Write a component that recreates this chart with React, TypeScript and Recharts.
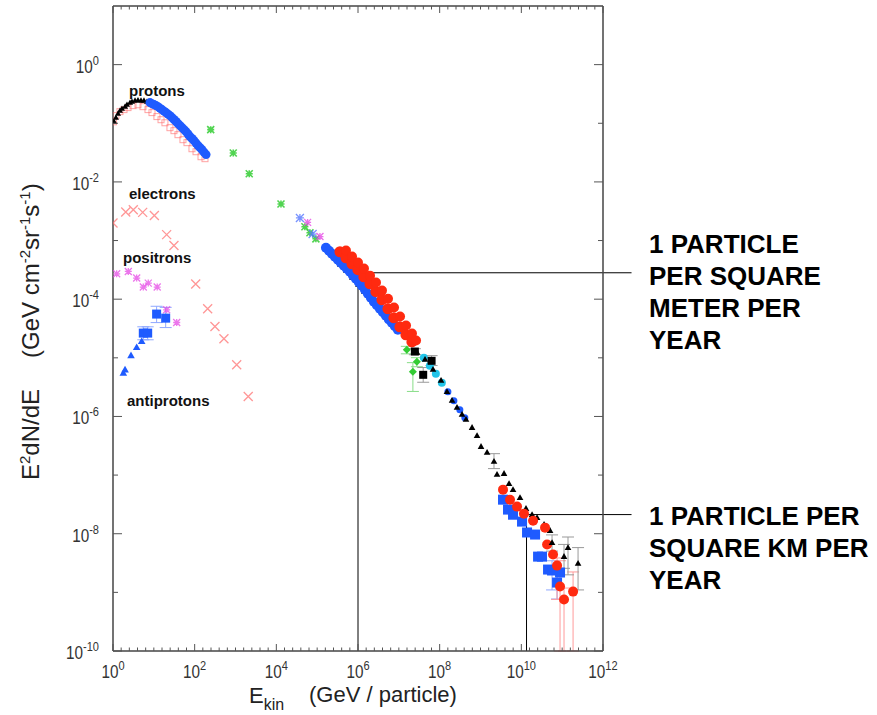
import React from 'react';
import { ScatterChart, Scatter, XAxis, YAxis, ErrorBar, ReferenceLine } from 'recharts';

type Pt = { x: number; y: number; e?: [number, number] };

// ---------- axes ----------
const X_TICKS = [1, 1e2, 1e4, 1e6, 1e8, 1e10, 1e12];
const X_TICK_EXPONENTS = ['0', '2', '4', '6', '8', '10', '12'];
const Y_TICKS = [1e-10, 1e-8, 1e-6, 1e-4, 1e-2, 1];
const Y_TICK_EXPONENTS = ['-10', '-8', '-6', '-4', '-2', '0'];
const X_MINOR_TICKS = Array.from({ length: 61 }, (_, i) => Math.pow(10, i * 0.2));
const Y_MINOR_TICKS = [1e-10, 1e-9, 1e-8, 1e-7, 1e-6, 1e-5, 1e-4, 1e-3, 1e-2, 1e-1, 1];
const X_DOMAIN: [number, number] = [1, 1e12];
const Y_DOMAIN: [number, number] = [1e-10, 10];

// ---------- data ----------
const PROTON_TRIANGLES: Pt[] = [
  { x: 1.06, y: 0.107 }, { x: 1.18, y: 0.125 }, { x: 1.33, y: 0.146 }, { x: 1.48, y: 0.164 },
  { x: 1.66, y: 0.178 }, { x: 1.97, y: 0.192 }, { x: 2.2, y: 0.208 }, { x: 2.61, y: 0.225 },
  { x: 2.92, y: 0.234 }, { x: 3.46, y: 0.244 }, { x: 4.09, y: 0.248 }, { x: 4.85, y: 0.244 },
  { x: 5.74, y: 0.244 }, { x: 6.8, y: 0.234 },
];
const PROTON_CIRCLES: Pt[] = [
  { x: 8.05, y: 0.225 }, { x: 9.0, y: 0.216 }, { x: 10.1, y: 0.208 }, { x: 11.3, y: 0.2 }, { x: 12.6, y: 0.192 },
  { x: 14.1, y: 0.181 }, { x: 15.8, y: 0.171 }, { x: 17.8, y: 0.161 }, { x: 19.9, y: 0.152 }, { x: 22.3, y: 0.143 },
  { x: 24.9, y: 0.135 }, { x: 27.9, y: 0.125 }, { x: 31.2, y: 0.116 }, { x: 35.0, y: 0.107 }, { x: 39.1, y: 0.0988 },
  { x: 43.8, y: 0.0914 }, { x: 49.0, y: 0.0844 }, { x: 54.9, y: 0.0781 }, { x: 61.4, y: 0.0722 }, { x: 68.7, y: 0.0655 },
  { x: 76.9, y: 0.0593 }, { x: 86.1, y: 0.0549 }, { x: 96.4, y: 0.0507 }, { x: 108, y: 0.0459 }, { x: 121, y: 0.0416 },
  { x: 135, y: 0.0385 }, { x: 151, y: 0.0356 }, { x: 169, y: 0.0322 }, { x: 190, y: 0.0292 },
];
const PROTON_OPEN_SQUARES: Pt[] = [
  { x: 1.03, y: 0.106 }, { x: 1.18, y: 0.135 }, { x: 1.48, y: 0.158 }, { x: 1.86, y: 0.171 },
  { x: 2.33, y: 0.185 }, { x: 3.09, y: 0.2 }, { x: 4.09, y: 0.207 }, { x: 5.42, y: 0.192 },
  { x: 7.19, y: 0.171 }, { x: 9.01, y: 0.152 }, { x: 11.9, y: 0.13 }, { x: 15.0, y: 0.115 },
  { x: 18.7, y: 0.102 }, { x: 24.8, y: 0.0841 }, { x: 31.1, y: 0.0748 }, { x: 39.0, y: 0.0639 },
  { x: 51.7, y: 0.0525 }, { x: 64.8, y: 0.0467 }, { x: 85.9, y: 0.0368 }, { x: 108, y: 0.0327 },
  { x: 143, y: 0.0269 }, { x: 179, y: 0.0249 },
];
const GREEN_ASTERISKS: Pt[] = [
  { x: 247, y: 0.0778 }, { x: 881, y: 0.0311 }, { x: 2170, y: 0.0138 }, { x: 1.3e4, y: 0.0042 },
  { x: 5.01e4, y: 0.00172 }, { x: 6.65e4, y: 0.00136 }, { x: 9.31e4, y: 0.00107 },
];
const BLUE_CROSSES: Pt[] = [{ x: 3.78e4, y: 0.00243 }, { x: 7.74e4, y: 0.00129 }];
const MAGENTA_ASTERISKS: Pt[] = [{ x: 5.83e4, y: 0.00204 }, { x: 1.17e5, y: 0.00117 }];
const KNEE_BLACK_TRIANGLES: Pt[] = [
  { x: 1.84e5, y: 6.44e-4 }, { x: 2.59e5, y: 5.09e-4 }, { x: 3.61e5, y: 3.86e-4 }, { x: 5.06e5, y: 3.05e-4 },
  { x: 7.1e5, y: 2.32e-4 }, { x: 9.95e5, y: 1.76e-4 }, { x: 1.39e6, y: 1.34e-4 }, { x: 1.96e6, y: 1.02e-4 },
];
const KNEE_BLUE: Pt[] = [
  { x: 1.64e5, y: 7.53e-4 }, { x: 1.95e5, y: 6.7e-4 }, { x: 2.3e5, y: 5.95e-4 }, { x: 2.72e5, y: 5.3e-4 },
  { x: 3.22e5, y: 4.7e-4 }, { x: 3.8e5, y: 4.2e-4 }, { x: 4.52e5, y: 3.72e-4 }, { x: 5.35e5, y: 3.3e-4 },
  { x: 6.34e5, y: 2.94e-4 }, { x: 7.5e5, y: 2.55e-4 }, { x: 8.89e5, y: 2.23e-4 }, { x: 1.05e6, y: 1.95e-4 },
  { x: 1.25e6, y: 1.69e-4 }, { x: 1.48e6, y: 1.45e-4 }, { x: 1.75e6, y: 1.24e-4 }, { x: 2.07e6, y: 1.06e-4 },
  { x: 2.45e6, y: 9.03e-5 }, { x: 2.9e6, y: 7.9e-5 }, { x: 3.44e6, y: 6.86e-5 }, { x: 4.07e6, y: 6.0e-5 },
  { x: 4.82e6, y: 5.21e-5 }, { x: 5.7e6, y: 4.5e-5 }, { x: 6.76e6, y: 3.96e-5 }, { x: 8.0e6, y: 3.45e-5 },
  { x: 9.48e6, y: 3.01e-5 },
];
const KNEE_RED_A: Pt[] = [
  { x: 3.61e5, y: 6.44e-4 }, { x: 5.06e5, y: 5.09e-4 }, { x: 7.1e5, y: 4.02e-4 }, { x: 9.95e5, y: 3.18e-4 },
  { x: 1.39e6, y: 2.41e-4 }, { x: 1.96e6, y: 1.83e-4 }, { x: 2.74e6, y: 1.34e-4 }, { x: 3.85e6, y: 9.77e-5 },
  { x: 5.4e6, y: 6.86e-5 }, { x: 7.57e6, y: 4.82e-5 }, { x: 1.06e7, y: 3.38e-5 }, { x: 1.49e7, y: 2.47e-5 },
  { x: 2.09e7, y: 1.87e-5 },
];
const KNEE_RED_B: Pt[] = [
  { x: 5.08e5, y: 6.75e-4 }, { x: 7.13e5, y: 5.32e-4 }, { x: 1.0e6, y: 4.21e-4 }, { x: 1.4e6, y: 3.32e-4 },
  { x: 1.97e6, y: 2.52e-4 }, { x: 2.76e6, y: 1.92e-4 }, { x: 3.87e6, y: 1.4e-4 }, { x: 5.43e6, y: 1.02e-4 },
  { x: 7.62e6, y: 7.19e-5 }, { x: 1.07e7, y: 5.05e-5 }, { x: 1.5e7, y: 3.55e-5 }, { x: 2.1e7, y: 2.59e-5 },
  { x: 2.64e7, y: 1.97e-5 },
];
const GREEN_DIAMONDS: Pt[] = [
  { x: 1.57e7, y: 1.37e-5, e: [2e-6, 2e-6] }, { x: 2.21e7, y: 5.77e-6, e: [3.1e-6, 2.5e-6] },
  { x: 2.77e7, y: 8.55e-6, e: [1.5e-6, 1.5e-6] },
];
const BLACK_SQUARES: Pt[] = [
  { x: 2.47e7, y: 1.28e-5, e: [1.5e-6, 1.5e-6] }, { x: 3.95e7, y: 5.13e-6, e: [1.3e-6, 1.7e-6] },
  { x: 6.34e7, y: 8.89e-6, e: [1.5e-6, 2e-6] },
];
const CYAN_CIRCLES: Pt[] = [
  { x: 4.1e7, y: 1.0e-5 }, { x: 5.75e7, y: 7.31e-6 }, { x: 8.07e7, y: 5.33e-6 }, { x: 1.13e8, y: 3.75e-6 },
];
const MID_BLUE_CIRCLES: Pt[] = [
  { x: 1.59e8, y: 2.63e-6 }, { x: 2.23e8, y: 1.85e-6 }, { x: 3.12e8, y: 1.3e-6 }, { x: 4.13e8, y: 9.48e-7 },
];
const TAIL_BLACK_TRIANGLES: Pt[] = [
  { x: 2.79e7, y: 1.23e-5 }, { x: 4.38e7, y: 9.33e-6 }, { x: 6.87e7, y: 6.3e-6 }, { x: 1.08e8, y: 4.09e-6 },
  { x: 1.51e8, y: 2.65e-6 }, { x: 2.01e8, y: 1.87e-6 }, { x: 2.66e8, y: 1.42e-6 }, { x: 3.53e8, y: 1.08e-6 },
  { x: 4.42e8, y: 8.84e-7 }, { x: 6.21e8, y: 6.45e-7 }, { x: 8.23e8, y: 4.71e-7 }, { x: 1.03e9, y: 3.06e-7 },
  { x: 1.45e9, y: 2.42e-7 }, { x: 2.54e9, y: 1.02e-7 }, { x: 3.77e9, y: 1.06e-7 }, { x: 5.0e9, y: 7.15e-8 },
  { x: 6.26e9, y: 5.65e-8 }, { x: 9.29e9, y: 4.12e-8 }, { x: 1.3e10, y: 2.68e-8 }, { x: 1.83e10, y: 2.11e-8 },
  { x: 2.43e10, y: 1.88e-8 }, { x: 3.6e10, y: 1.43e-8 }, { x: 5.05e10, y: 1.13e-8 },
];
const TAIL_BLACK_TRIANGLES_ERR: Pt[] = [
  { x: 2.14e9, y: 1.7e-7, e: [4.1e-8, 6.2e-8] }, { x: 5.65e10, y: 7.05e-9, e: [2e-9, 2.5e-9] },
  { x: 1.11e11, y: 4.07e-9, e: [1.5e-9, 2.5e-9] }, { x: 1.39e11, y: 5.79e-9, e: [3.8e-9, 3.0e-9] },
  { x: 2.45e11, y: 3.1e-9, e: [2.0e-9, 2.7e-9] },
];
const TAIL_RED: Pt[] = [
  { x: 3.56e9, y: 5.65e-8 }, { x: 5.28e9, y: 3.81e-8 }, { x: 7.85e9, y: 2.9e-8 }, { x: 1.16e10, y: 2.2e-8 },
  { x: 1.94e10, y: 1.67e-8 }, { x: 3.81e10, y: 1.27e-8 }, { x: 4.27e10, y: 6.53e-9 }, { x: 5.98e10, y: 4.41e-9 },
];
const TAIL_RED_ERR: Pt[] = [
  { x: 7.5e10, y: 2.86e-9, e: [2.1e-9, 1.0e-9] }, { x: 8.87e10, y: 1.26e-9, e: [1.16e-9, 2.2e-9] },
  { x: 1.11e11, y: 7.55e-10, e: [6.55e-10, 4.3e-10] }, { x: 1.85e11, y: 1.03e-9, e: [9.3e-10, 1.2e-9] },
];
const TAIL_BLUE_SQUARES: Pt[] = [
  { x: 3.56e9, y: 3.81e-8 }, { x: 4.72e9, y: 2.58e-8 }, { x: 6.26e9, y: 2.11e-8 }, { x: 1.04e10, y: 1.61e-8 },
  { x: 1.38e10, y: 1.05e-8 }, { x: 2.17e10, y: 9.68e-9 }, { x: 2.57e10, y: 4.07e-9 }, { x: 3.21e10, y: 4.07e-9 },
  { x: 4.51e10, y: 2.45e-9 }, { x: 8.87e10, y: 2.18e-9 },
];
const TAIL_BLUE_SQUARES_ERR: Pt[] = [
  { x: 5.65e10, y: 2.36e-9, e: [1.26e-9, 1.1e-9] }, { x: 7.5e10, y: 1.47e-9, e: [0.7e-9, 0.7e-9] },
];
const ELECTRONS: Pt[] = [
  { x: 1.0, y: 1.99e-3 }, { x: 2.05, y: 3.06e-3 }, { x: 3.14, y: 3.36e-3 }, { x: 5.33, y: 3.02e-3 },
  { x: 10.3, y: 2.68e-3 }, { x: 20.6, y: 1.26e-3 }, { x: 31.1, y: 8.24e-4 }, { x: 106, y: 1.81e-4 },
  { x: 208, y: 6.86e-5 }, { x: 314, y: 3.42e-5 }, { x: 521, y: 2.11e-5 }, { x: 1070, y: 7.6e-6 },
  { x: 2050, y: 2.19e-6 },
];
const POSITRONS: Pt[] = [
  { x: 1.23, y: 2.71e-4 }, { x: 2.37, y: 2.97e-4 }, { x: 3.8, y: 2.29e-4 }, { x: 5.52, y: 1.61e-4 },
  { x: 7.31, y: 1.88e-4 }, { x: 12.1, y: 1.61e-4 }, { x: 20.6, y: 6.59e-5 }, { x: 36.3, y: 4.0e-5 },
];
const ANTIPROTON_TRIANGLES: Pt[] = [
  { x: 1.79, y: 5.48e-6 }, { x: 1.97, y: 6.24e-6 }, { x: 2.76, y: 1.09e-5 }, { x: 3.8, y: 1.5e-5 },
  { x: 5.04, y: 1.9e-5 },
];
const ANTIPROTON_SQUARES: Pt[] = [
  { x: 5.52, y: 2.64e-5, e: [6.1e-6, 7.4e-6] }, { x: 7.07, y: 2.64e-5, e: [6.1e-6, 7.4e-6] },
  { x: 11.7, y: 5.57e-5, e: [1.58e-5, 2.0e-5] }, { x: 19.5, y: 4.75e-5, e: [1.47e-5, 2.5e-5] },
];

const FLUX_MARKS = [
  { x: 1e6, y: 2.82e-4, xEnd: 5e12, lines: ['1 PARTICLE', 'PER SQUARE', 'METER PER', 'YEAR'] },
  { x: 1.34e10, y: 2.12e-8, xEnd: 5e12, lines: ['1 PARTICLE PER', 'SQUARE KM PER', 'YEAR'] },
];

const SPECIES_LABELS = [
  { text: 'protons', x: 129, y: 96 },
  { text: 'electrons', x: 129, y: 199 },
  { text: 'positrons', x: 123, y: 263 },
  { text: 'antiprotons', x: 127, y: 406 },
];

// ---------- shapes ----------
const FONT = "'Liberation Sans', Arial, Helvetica, sans-serif";

const ok = (p: any) => p && Number.isFinite(p.cx) && Number.isFinite(p.cy);

const circleShape = (r: number, fill: string, opacity = 1) => (p: any) =>
  ok(p) ? <circle cx={p.cx} cy={p.cy} r={r} fill={fill} opacity={opacity} /> : <g />;

const triangleShape = (r: number, fill: string) => (p: any) =>
  ok(p) ? (
    <path d={`M${p.cx},${p.cy - r}L${p.cx + r * 0.95},${p.cy + r * 0.65}L${p.cx - r * 0.95},${p.cy + r * 0.65}Z`} fill={fill} />
  ) : <g />;

const squareShape = (r: number, fill: string) => (p: any) =>
  ok(p) ? <rect x={p.cx - r} y={p.cy - r} width={2 * r} height={2 * r} fill={fill} /> : <g />;

const openSquareShape = (r: number, stroke: string) => (p: any) =>
  ok(p) ? <rect x={p.cx - r} y={p.cy - r} width={2 * r} height={2 * r} fill="none" stroke={stroke} strokeWidth={1} opacity={0.6} /> : <g />;

const diamondShape = (r: number, fill: string) => (p: any) =>
  ok(p) ? <path d={`M${p.cx},${p.cy - r}L${p.cx + r},${p.cy}L${p.cx},${p.cy + r}L${p.cx - r},${p.cy}Z`} fill={fill} /> : <g />;

const crossShape = (r: number, stroke: string, sw: number, opacity: number) => (p: any) =>
  ok(p) ? (
    <path d={`M${p.cx - r},${p.cy - r}L${p.cx + r},${p.cy + r}M${p.cx - r},${p.cy + r}L${p.cx + r},${p.cy - r}`} stroke={stroke} strokeWidth={sw} fill="none" opacity={opacity} />
  ) : <g />;

const asteriskShape = (r: number, stroke: string, sw: number, opacity: number) => (p: any) =>
  ok(p) ? (
    <g opacity={opacity}>
      <path d={`M${p.cx - r},${p.cy - r}L${p.cx + r},${p.cy + r}M${p.cx - r},${p.cy + r}L${p.cx + r},${p.cy - r}M${p.cx - r},${p.cy}L${p.cx + r},${p.cy}M${p.cx},${p.cy - r}L${p.cx},${p.cy + r}`} stroke={stroke} strokeWidth={sw} fill="none" />
    </g>
  ) : <g />;

// ---------- ticks ----------
const isEvenDecade = (v: number) => {
  const l = Math.log10(v);
  return Math.abs(l / 2 - Math.round(l / 2)) < 1e-6;
};
const findIdx = (arr: number[], v: number) => arr.findIndex((t) => Math.abs(Math.log10(t) - Math.log10(v)) < 1e-6);

const XLabelTick = (p: any) => {
  const i = findIdx(X_TICKS, p.payload.value);
  if (i < 0) return <g />;
  return (
    <g transform={`translate(${p.x},${p.y + 27}) scale(0.85,1)`}>
      <text x={0} y={0} textAnchor="middle" fontSize={18} fontFamily={FONT} fill="#333">
        10<tspan dy={-8} fontSize={13}>{X_TICK_EXPONENTS[i]}</tspan>
      </text>
    </g>
  );
};

const YLabelTick = (p: any) => {
  const i = findIdx(Y_TICKS, p.payload.value);
  if (i < 0) return <g />;
  return (
    <g transform={`translate(${p.x - 14},${p.y + 8}) scale(0.85,1)`}>
      <text x={0} y={0} textAnchor="end" fontSize={18} fontFamily={FONT} fill="#333">
        10<tspan dy={-8} fontSize={13}>{Y_TICK_EXPONENTS[i]}</tspan>
      </text>
    </g>
  );
};

const TICK_COLOR = '#555';
const XTickBottom = (p: any) => {
  const len = isEvenDecade(p.payload.value) ? 7 : 3.5;
  return <line x1={p.x} x2={p.x} y1={651} y2={651 - len} stroke={TICK_COLOR} strokeWidth={1} />;
};
const XTickTop = (p: any) => {
  const len = isEvenDecade(p.payload.value) ? 7 : 3.5;
  return <line x1={p.x} x2={p.x} y1={6} y2={6 + len} stroke={TICK_COLOR} strokeWidth={1} />;
};
const YTickLeft = (p: any) => {
  const len = isEvenDecade(p.payload.value) ? 9 : 5;
  return <line x1={113} x2={113 + len} y1={p.y} y2={p.y} stroke={TICK_COLOR} strokeWidth={1} />;
};
const YTickRight = (p: any) => {
  const len = isEvenDecade(p.payload.value) ? 9 : 5;
  return <line x1={603} x2={603 - len} y1={p.y} y2={p.y} stroke={TICK_COLOR} strokeWidth={1} />;
};

const axisLineStyle = { stroke: '#444', strokeWidth: 1.5 };

export default function App() {
  return (
    <div style={{ position: 'absolute', left: 0, top: 0, width: 877, height: 715, background: '#fff' }}>
      <ScatterChart width={877} height={715} margin={{ top: 6, right: 274, bottom: 63, left: 112 }}>
        <XAxis xAxisId={0} dataKey="x" type="number" scale="log" domain={X_DOMAIN} allowDataOverflow
          ticks={X_TICKS} interval={0} height={1} tickSize={0} tickMargin={0} tickLine={false} axisLine={false} tick={XLabelTick} />
        <XAxis xAxisId="bt" dataKey="x" type="number" scale="log" domain={X_DOMAIN} allowDataOverflow mirror
          ticks={X_MINOR_TICKS} interval={0} height={1} tickSize={0} tickMargin={0} tickLine={false} axisLine={axisLineStyle} tick={XTickBottom} />
        <XAxis xAxisId="tp" orientation="top" dataKey="x" type="number" scale="log" domain={X_DOMAIN} allowDataOverflow mirror
          ticks={X_MINOR_TICKS} interval={0} height={1} tickSize={0} tickMargin={0} tickLine={false} axisLine={axisLineStyle} tick={XTickTop} />
        <YAxis yAxisId={0} dataKey="y" type="number" scale="log" domain={Y_DOMAIN} allowDataOverflow
          ticks={Y_TICKS} interval={0} width={1} tickSize={0} tickMargin={0} tickLine={false} axisLine={false} tick={YLabelTick} />
        <YAxis yAxisId="lt" dataKey="y" type="number" scale="log" domain={Y_DOMAIN} allowDataOverflow mirror
          ticks={Y_MINOR_TICKS} interval={0} width={1} tickSize={0} tickMargin={0} tickLine={false} axisLine={axisLineStyle} tick={YTickLeft} />
        <YAxis yAxisId="rt" orientation="right" dataKey="y" type="number" scale="log" domain={Y_DOMAIN} allowDataOverflow mirror
          ticks={Y_MINOR_TICKS} interval={0} width={1} tickSize={0} tickMargin={0} tickLine={false} axisLine={axisLineStyle} tick={YTickRight} />

        <Scatter data={PROTON_OPEN_SQUARES} isAnimationActive={false} shape={openSquareShape(3, '#ff6666')} />
        <Scatter data={PROTON_TRIANGLES} isAnimationActive={false} shape={triangleShape(3.2, '#000')} />
        <Scatter data={PROTON_CIRCLES} isAnimationActive={false} shape={circleShape(4.5, '#1f5bff')} />
        <Scatter data={ELECTRONS} isAnimationActive={false} shape={crossShape(4.5, '#ff6a6a', 1.3, 0.7)} />
        <Scatter data={POSITRONS} isAnimationActive={false} shape={asteriskShape(3.5, '#e64ae6', 1.3, 0.75)} />
        <Scatter data={ANTIPROTON_TRIANGLES} isAnimationActive={false} shape={triangleShape(4, '#1f5bff')} />
        <Scatter data={ANTIPROTON_SQUARES} isAnimationActive={false} shape={squareShape(4.5, '#1f5bff')}>
          <ErrorBar dataKey="e" direction="y" width={6} stroke="#8fa8ff" strokeWidth={1} />
        </Scatter>
        <Scatter data={GREEN_ASTERISKS} isAnimationActive={false} shape={asteriskShape(3.5, '#33cc33', 1.6, 0.85)} />
        <Scatter data={BLUE_CROSSES} isAnimationActive={false} shape={asteriskShape(4, '#5577ff', 1.3, 0.8)} />
        <Scatter data={MAGENTA_ASTERISKS} isAnimationActive={false} shape={asteriskShape(3.5, '#e64ae6', 1.3, 0.8)} />
        <Scatter data={KNEE_BLACK_TRIANGLES} isAnimationActive={false} shape={triangleShape(3, '#000')} />
        <Scatter data={KNEE_BLUE} isAnimationActive={false} shape={circleShape(5, '#1f5bff')} />
        <Scatter data={KNEE_RED_A} isAnimationActive={false} shape={circleShape(5.5, '#ff2a10')} />
        <Scatter data={KNEE_RED_B} isAnimationActive={false} shape={circleShape(5, '#ff2a10')} />
        <Scatter data={GREEN_DIAMONDS} isAnimationActive={false} shape={diamondShape(4, '#33cc33')}>
          <ErrorBar dataKey="e" direction="y" width={6} stroke="#88dd88" strokeWidth={1} />
        </Scatter>
        <Scatter data={CYAN_CIRCLES} isAnimationActive={false} shape={circleShape(4, '#22c4e8')} />
        <Scatter data={MID_BLUE_CIRCLES} isAnimationActive={false} shape={circleShape(3.5, '#1f5bff')} />
        <Scatter data={TAIL_BLACK_TRIANGLES} isAnimationActive={false} shape={triangleShape(3.5, '#000')} />
        <Scatter data={BLACK_SQUARES} isAnimationActive={false} shape={squareShape(4, '#000')}>
          <ErrorBar dataKey="e" direction="y" width={6} stroke="#999" strokeWidth={1} />
        </Scatter>
        <Scatter data={TAIL_BLUE_SQUARES} isAnimationActive={false} shape={squareShape(5, '#1f5bff')} />
        <Scatter data={TAIL_BLUE_SQUARES_ERR} isAnimationActive={false} shape={squareShape(5, '#1f5bff')}>
          <ErrorBar dataKey="e" direction="y" width={6} stroke="#8fa8ff" strokeWidth={1} />
        </Scatter>
        <Scatter data={TAIL_RED} isAnimationActive={false} shape={circleShape(5, '#ff2a10')} />
        <Scatter data={TAIL_RED_ERR} isAnimationActive={false} shape={circleShape(5, '#ff2a10')}>
          <ErrorBar dataKey="e" direction="y" width={6} stroke="#ff9a9a" strokeWidth={1} />
        </Scatter>
        <Scatter data={TAIL_BLACK_TRIANGLES_ERR} isAnimationActive={false} shape={triangleShape(3.5, '#000')}>
          <ErrorBar dataKey="e" direction="y" width={6} stroke="#999" strokeWidth={1} />
        </Scatter>

        {FLUX_MARKS.map((m, i) => (
          <ReferenceLine key={`v${i}`} ifOverflow="visible" stroke="#000" strokeWidth={1}
            segment={[{ x: m.x, y: m.y }, { x: m.x, y: Y_DOMAIN[0] }]} />
        ))}
        {FLUX_MARKS.map((m, i) => (
          <ReferenceLine key={`h${i}`} ifOverflow="visible" stroke="#000" strokeWidth={1}
            segment={[{ x: m.x, y: m.y }, { x: m.xEnd, y: m.y }]} />
        ))}
      </ScatterChart>

      <svg width={877} height={715} style={{ position: 'absolute', left: 0, top: 0, pointerEvents: 'none' }}>
        <g fontFamily={FONT} fill="#222">
          <text transform="rotate(-90)" x={-480} y={39} fontSize={24}>
            E<tspan dy={-9} fontSize={15}>2</tspan><tspan dy={9}>dN/dE</tspan>
          </text>
          <text transform="rotate(-90)" x={-358} y={39} fontSize={24}>
            (GeV cm<tspan dy={-9} fontSize={15}>-2</tspan><tspan dy={9}>sr</tspan><tspan dy={-9} fontSize={15}>-1</tspan><tspan dy={9}>s</tspan><tspan dy={-9} fontSize={15}>-1</tspan><tspan dy={9}>)</tspan>
          </text>
          <text x={249} y={703} fontSize={22}>
            E<tspan dy={7} fontSize={16}>kin</tspan>
          </text>
          <text x={309} y={702} fontSize={22}>(GeV / particle)</text>
        </g>
        <g fontFamily={FONT} fontWeight="bold" fill="#111" fontSize={15}>
          {SPECIES_LABELS.map((l) => (
            <text key={l.text} x={l.x} y={l.y}>{l.text}</text>
          ))}
        </g>
        <g fontFamily={FONT} fontWeight="bold" fill="#000" fontSize={26}>
          {FLUX_MARKS[0].lines.map((t, i) => (
            <text key={t} x={649} y={253 + i * 32}>{t}</text>
          ))}
          {FLUX_MARKS[1].lines.map((t, i) => (
            <text key={t} x={649} y={525 + i * 32}>{t}</text>
          ))}
        </g>
      </svg>
    </div>
  );
}
